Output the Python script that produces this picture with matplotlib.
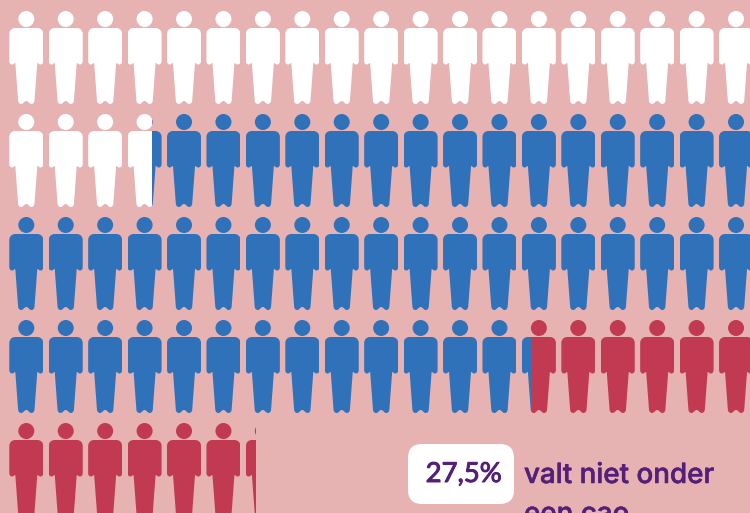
import matplotlib
matplotlib.use("Agg")
import matplotlib.pyplot as plt
import matplotlib.patheffects as pe
from matplotlib.path import Path
from matplotlib.patches import PathPatch, FancyBboxPatch, Rectangle
from matplotlib.transforms import Affine2D

# Share of people per group (percent) and total number of icons shown
labels = ["niet onder cao", "onder cao", "overig"]
shares = [27.6, 57.8, 14.6]
total_icons = 82.3
colors = ["#FFFFFF", "#2F72BA", "#C13A52"]

highlight = "27,5%"
caption = ["valt niet onder", "een cao"]

columns = 19
col_step = 39.43
row_step = 103
icon_left = 9.3
icon_top = 11
icon_width = 34

text_color = "#541F78"

M, L, C, Z = Path.MOVETO, Path.LINETO, Path.CURVE4, Path.CLOSEPOLY


def person_path():
    # drawn in pixel units, icon is 34 wide and 93 high
    k = 0.5523
    r = 8
    cy = 8
    head = [(17, cy - r),
            (17 + k * r, cy - r), (17 + r, cy - k * r), (17 + r, cy),
            (17 + r, cy + k * r), (17 + k * r, cy + r), (17, cy + r),
            (17 - k * r, cy + r), (17 - r, cy + k * r), (17 - r, cy),
            (17 - r, cy - k * r), (17 - k * r, cy - r), (17, cy - r),
            (17, cy - r)]
    head_codes = [M] + [C] * 12 + [Z]

    # left half of the body, top centre down to the notch between the feet
    half = [(17, 17), (6, 17),
            (2.5, 17), (0, 19.5), (0, 23),
            (0, 50),
            (0, 52), (1, 53.5), (2.8, 53.5),
            (4.5, 53.5), (4.8, 52), (6, 52),
            (8.8, 89.5),
            (9, 91.8), (10.3, 93), (12, 93),
            (14, 93), (15, 90), (17, 90)]
    half_codes = [M, L, C, C, C, L, C, C, C, C, C, C, L, C, C, C, C, C, C]

    # right half is the left half mirrored, walked backwards
    body = list(half)
    body_codes = list(half_codes)
    for i in range(len(half) - 2, -1, -1):
        body.append((34 - half[i][0], half[i][1]))
        body_codes.append(half_codes[i + 1])
    body.append(half[0])
    body_codes.append(Z)
    return Path(head + body, head_codes + body_codes)


fig = plt.figure(figsize=(7.5, 5.13), dpi=100, facecolor="#E6B2B2")
ax = fig.add_axes([0, 0, 1, 1])
ax.set_xlim(0, 750)
ax.set_ylim(513, 0)
ax.axis("off")

person = person_path()


def icon_pos(n):
    row = int(n // columns)
    col = int(n % columns)
    return icon_left + col * col_step, icon_top + row * row_step


# every group fills icons from where the previous one stopped
start = 0
for share, color in zip(shares, colors):
    end = start + share / 100 * total_icons
    n = int(start)
    while n < end:
        x, y = icon_pos(n)
        f0 = max(start - n, 0)
        f1 = min(end - n, 1)
        patch = PathPatch(person, facecolor=color, edgecolor="none",
                          transform=Affine2D().translate(x, y) + ax.transData)
        ax.add_patch(patch)
        clip = Rectangle((x + f0 * icon_width, y - 2), (f1 - f0) * icon_width, 100,
                         transform=ax.transData)
        patch.set_clip_path(clip)
        n += 1
    start = end

box = FancyBboxPatch((422, 458), 78, 32, boxstyle="round,pad=14,rounding_size=14",
                     facecolor="white", edgecolor="none")
ax.add_patch(box)

# thin stroke, the regular cut is a little too light next to the original type
heavy = [pe.withStroke(linewidth=0.35, foreground=text_color)]
heavier = [pe.withStroke(linewidth=0.7, foreground=text_color)]
ax.text(502, 482, highlight, family="Lato", fontsize=19.8,
        color=text_color, ha="right", va="baseline", path_effects=heavier)
ax.text(524, 483, caption[0], family="Inter", fontsize=20, fontweight="medium",
        color=text_color, ha="left", va="baseline", path_effects=heavy)
ax.text(524, 522, caption[1], family="Inter", fontsize=20, fontweight="medium",
        color=text_color, ha="left", va="baseline", clip_on=False, path_effects=heavy)

plt.savefig("out.png", dpi=100, facecolor=fig.get_facecolor())
plt.close()
